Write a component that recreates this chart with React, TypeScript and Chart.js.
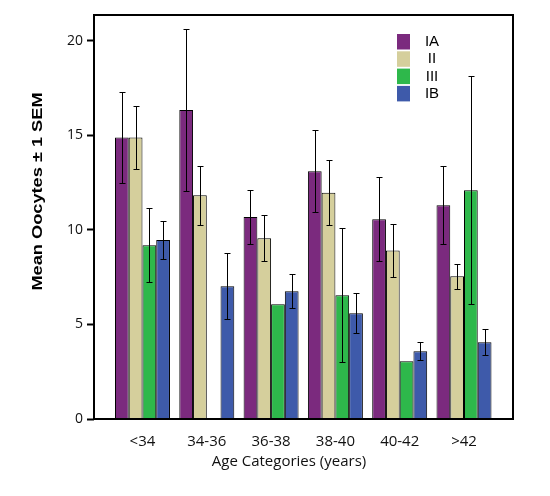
import React, { useEffect, useRef } from 'react';
import { Chart, registerables } from 'chart.js';

Chart.register(...registerables);

const categories = ['<34', '34-36', '36-38', '38-40', '40-42', '>42'];
const seriesNames = ['IA', 'II', 'III', 'IB'];
const iaMeans = [14.87, 16.33, 10.68, 13.09, 10.55, 11.29];
const iaSem = [2.4, 4.27, 1.41, 2.17, 2.22, 2.06];
const iiMeans = [14.87, 11.82, 9.55, 11.95, 8.9, 7.54];
const iiSem = [1.66, 1.55, 1.22, 1.72, 1.38, 0.66];
const iiiMeans: (number | null)[] = [9.18, null, 6.06, 6.54, 3.05, 12.09];
const iiiSem: (number | null)[] = [1.96, null, null, 3.54, null, 6.03];
const ibMeans = [9.46, 7.01, 6.75, 5.59, 3.58, 4.05];
const ibSem = [1.0, 1.75, 0.91, 1.07, 0.47, 0.69];
const yTicks = [0, 5, 10, 15, 20];
const yMax = 21.35;
const xTitle = 'Age Categories (years)';
const yTitle = 'Mean Oocytes ± 1 SEM';

const seriesColors = ['#7B2A7E', '#D5CF9C', '#2EB84B', '#3E5AAA'];
const allMeans = [iaMeans, iiMeans, iiiMeans, ibMeans];
const allSem = [iaSem, iiSem, iiiSem, ibSem];

const errorBarPlugin = {
  id: 'errorBars',
  afterDatasetsDraw(chart: any) {
    const ctx = chart.ctx;
    const yScale = chart.scales.y;
    ctx.save();
    ctx.strokeStyle = '#000';
    ctx.lineWidth = 1;
    chart.data.datasets.forEach((ds: any, i: number) => {
      const meta = chart.getDatasetMeta(i);
      const sems = allSem[i];
      meta.data.forEach((bar: any, j: number) => {
        const v = ds.data[j];
        const s = sems[j];
        if (v == null || s == null || !s) return;
        const x = Math.round(bar.x) + 0.5;
        const yt = Math.round(yScale.getPixelForValue(v + s)) + 0.5;
        const yb = Math.round(yScale.getPixelForValue(v - s)) + 0.5;
        ctx.beginPath();
        ctx.moveTo(x, yt);
        ctx.lineTo(x, yb);
        ctx.moveTo(x - 3, yt);
        ctx.lineTo(x + 3, yt);
        ctx.moveTo(x - 3, yb);
        ctx.lineTo(x + 3, yb);
        ctx.stroke();
      });
    });
    ctx.restore();
  },
};

const decorPlugin = {
  id: 'decor',
  afterDraw(chart: any) {
    const ctx = chart.ctx;
    const a = chart.chartArea;
    ctx.save();
    // frame
    ctx.strokeStyle = '#000';
    ctx.lineWidth = 2;
    ctx.strokeRect(a.left, a.top, a.right - a.left, a.bottom - a.top);
    // legend
    chart.data.datasets.forEach((ds: any, i: number) => {
      const y = 34 + i * 17.3;
      ctx.fillStyle = ds.backgroundColor;
      ctx.fillRect(397, y, 13, 15.5);
      ctx.fillStyle = '#000';
      ctx.font = '15px "Liberation Sans", Arial, sans-serif';
      ctx.textAlign = 'center';
      ctx.textBaseline = 'middle';
      ctx.fillText(ds.label, 432, y + 8);
    });
    // x title
    ctx.fillStyle = '#111';
    ctx.font = '15px "Open Sans", sans-serif';
    ctx.textAlign = 'center';
    ctx.textBaseline = 'middle';
    ctx.fillText(xTitle, 289, 462);
    // y title
    ctx.translate(38, 191.5);
    ctx.rotate(-Math.PI / 2);
    ctx.scale(1.3, 1);
    ctx.font = 'bold 14px "Liberation Sans", Arial, sans-serif';
    ctx.fillStyle = '#000';
    ctx.fillText(yTitle, 0, 0);
    ctx.restore();
  },
};

export default function App() {
  const ref = useRef<HTMLCanvasElement | null>(null);
  useEffect(() => {
    if (!ref.current) return;
    const chart = new Chart(ref.current, {
      type: 'bar',
      data: {
        labels: categories,
        datasets: seriesNames.map((name, i) => ({
          label: name,
          data: allMeans[i] as any,
          backgroundColor: seriesColors[i],
          borderColor: '#000',
          borderWidth: 1,
          categoryPercentage: 0.855,
          barPercentage: 1,
        })),
      },
      options: {
        responsive: false,
        animation: false,
        layout: { padding: { left: 0, top: 15, right: 37, bottom: 0 } },
        plugins: {
          legend: { display: false },
          tooltip: { enabled: false },
          title: { display: false },
        },
        scales: {
          x: {
            type: 'category',
            offset: true,
            grid: { display: false, drawTicks: false },
            border: { display: false },
            ticks: {
              color: '#111',
              font: { family: '"Open Sans", sans-serif', size: 15 },
              padding: 14,
              maxRotation: 0,
              autoSkip: false,
            },
            afterFit: (s: any) => {
              s.height = 77;
            },
            afterBuildTicks: (s: any) => {
              s._startValue = -0.754;
              s._valueRange = 6.516;
            },
          },
          y: {
            min: 0,
            max: yMax,
            afterFit: (s: any) => {
              s.width = 94;
            },
            afterBuildTicks: (s: any) => {
              s.ticks = yTicks.map((v) => ({ value: v }));
            },
            ticks: {
              color: '#111',
              font: { family: '"Open Sans", sans-serif', size: 14 },
              padding: 4,
            },
            grid: {
              drawOnChartArea: false,
              drawTicks: true,
              tickLength: 7,
              tickWidth: 2,
              tickColor: '#000',
            },
            border: { display: false },
          },
        },
      } as any,
      plugins: [errorBarPlugin, decorPlugin],
    });
    return () => chart.destroy();
  }, []);
  return (
    <div style={{ position: 'fixed', left: 0, top: 0, width: 550, height: 496, background: '#fff' }}>
      <canvas ref={ref} width={550} height={496} style={{ display: 'block' }} />
    </div>
  );
}
